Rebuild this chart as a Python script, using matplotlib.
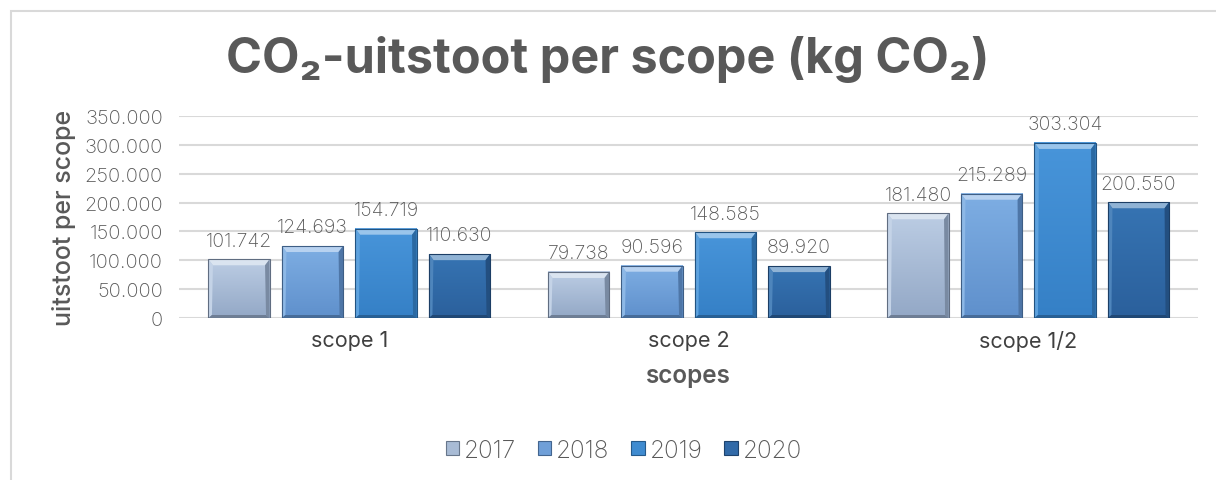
import numpy as np
import matplotlib
matplotlib.use('Agg')
import matplotlib.pyplot as plt
from matplotlib.patches import Polygon, Rectangle, Patch
from matplotlib.colors import to_rgb

# ---- data ----
categories = ['scope 1', 'scope 2', 'scope 1/2']
years = ['2017', '2018', '2019', '2020']
v2017 = [101742, 79738, 181480]
v2018 = [124693, 90596, 215289]
v2019 = [154719, 148585, 303304]
v2020 = [110630, 89920, 200550]
yticks = [0, 50000, 100000, 150000, 200000, 250000, 300000, 350000]

series = [v2017, v2018, v2019, v2020]
face_top = ['#bccde4', '#7eaee3', '#4895da', '#3674b3']
face_bot = ['#93a8c6', '#5f90cc', '#3580c6', '#2b609c']

plt.rcParams['font.family'] = ['Inter', 'DejaVu Sans']
GRAY = '#595959'


def fmt(v):
    return f'{v:,}'.replace(',', '.')


def mix(c, other, t):
    a, b = np.array(to_rgb(c)), np.array(to_rgb(other))
    return tuple(a * (1 - t) + b * t)


fig = plt.figure(figsize=(12.16, 4.81), dpi=100)
ax = fig.add_axes([0.1476, 0.3368, 0.8376, 0.42])

x = np.arange(len(categories))
step = 0.2165
width = 0.18
ax.set_xlim(-0.5, len(categories) - 0.5)
ax.set_ylim(0, 350000)

fig.canvas.draw()
bb = ax.get_window_extent()
px_x = 3.0 / bb.width
px_y = 350000 / bb.height

for i, vals in enumerate(series):
    bars = ax.bar(x + (i - 1.5) * step, vals, width, color='none', zorder=3)
    for b, v in zip(bars, vals):
        x0, w, h = b.get_x(), b.get_width(), b.get_height()
        # face with vertical gradient
        grad = np.linspace(0, 1, 64)[:, None]
        c1, c2 = np.array(to_rgb(face_top[i])), np.array(to_rgb(face_bot[i]))
        img = c1[None, None, :] * (1 - grad[..., None]) + c2[None, None, :] * grad[..., None]
        ax.imshow(img, extent=[x0, x0 + w, 0, h], aspect='auto', zorder=3, origin='upper')
        # bevel edges
        dx, dy = 4.5 * px_x, 6 * px_y
        sx = 3.5 * px_x
        top = Polygon([(x0, h), (x0 + w, h), (x0 + w - dx, h - dy), (x0 + dx, h - dy)],
                      color=mix(face_top[i], 'white', 0.45), zorder=4, lw=0)
        left = Polygon([(x0, 0), (x0, h), (x0 + dx, h - dy), (x0 + sx, 3 * px_y)],
                       color=mix(face_top[i], 'white', 0.12), zorder=4, lw=0)
        right = Polygon([(x0 + w, 0), (x0 + w, h), (x0 + w - dx, h - dy), (x0 + w - sx, 3 * px_y)],
                        color=mix(face_bot[i], 'black', 0.18), zorder=4, lw=0)
        bottom = Polygon([(x0, 0), (x0 + w, 0), (x0 + w - sx, 3 * px_y), (x0 + sx, 3 * px_y)],
                         color=mix(face_bot[i], 'black', 0.25), zorder=4, lw=0)
        for p in (top, left, right, bottom):
            ax.add_patch(p)
        ax.add_patch(Rectangle((x0, 0), w, h, fill=False, ec=mix(face_bot[i], 'black', 0.35),
                               lw=0.8, zorder=5))
        ax.annotate(fmt(v), (x0 + w / 2, h), xytext=(0, 7), textcoords='offset points',
                    ha='center', va='bottom', fontsize=14, color='#595959',
                    fontweight='light', zorder=6)

ax.set_xlim(-0.5, len(categories) - 0.5)
ax.set_ylim(0, 350000)
ax.set_yticks(yticks)
ax.set_yticklabels([fmt(t) for t in yticks], fontsize=14.5, color='#595959', fontweight='light')
ax.set_xticks(x)
ax.set_xticklabels(categories, fontsize=15.5, color='#404040')
ax.tick_params(length=0)
ax.tick_params(axis='y', pad=12)
ax.tick_params(axis='x', pad=9)
ax.grid(axis='y', color='#d9d9d9', lw=1.5, zorder=0)
for s in ax.spines.values():
    s.set_visible(False)

ax.set_xlabel('scopes', fontsize=17.5, fontweight='semibold', color=GRAY, labelpad=9)
ax.set_ylabel('uitstoot per scope', fontsize=18, fontweight='medium', color=GRAY, labelpad=6)

fig.text(0.5, 0.876, 'CO₂-uitstoot per scope (kg CO₂)', ha='center', va='center',
         fontsize=35, fontweight='bold', color=GRAY)

handles = [Patch(facecolor=mix(face_top[i], face_bot[i], 0.5), edgecolor=mix(face_bot[i], 'black', 0.3),
                 lw=0.8) for i in range(4)]
fig.legend(handles, years, loc='center', bbox_to_anchor=(0.513, 0.062), ncol=4, frameon=False,
           handlelength=0.55, handleheight=0.55, handletextpad=0.2,
           columnspacing=0.9, labelcolor='#595959', prop={'weight': 'light', 'size': 17.5})

# outer chart border (only left and top visible in crop)
fig.patches.append(Rectangle((10.5 / 1216, -0.2), 1.2, 1.2 - 12 / 481, transform=fig.transFigure,
                             fill=False, ec='#d9d9d9', lw=1.5))

fig.savefig('out.png', dpi=100)
